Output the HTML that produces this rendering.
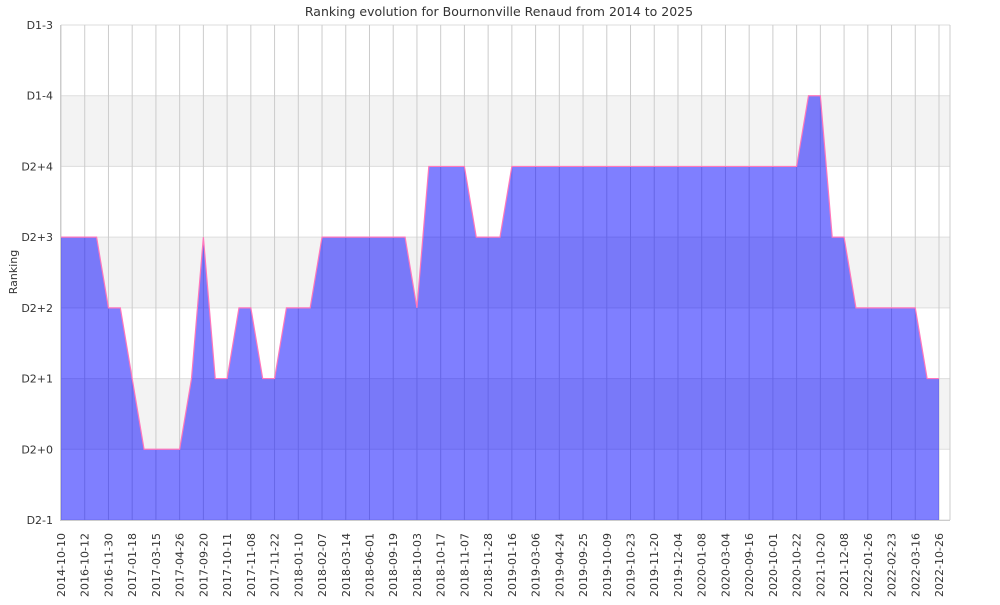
<!DOCTYPE html>
<html><head><meta charset="utf-8"><style>
body{margin:0;background:#fff;}
svg text{font-family:"DejaVu Sans","Liberation Sans",sans-serif;fill:#333;}
</style></head><body>
<svg id="chart" width="1000" height="600" xmlns="http://www.w3.org/2000/svg">
<text x="499" y="16" text-anchor="middle" font-size="12.5">Ranking evolution for Bournonville Renaud from 2014 to 2025</text>
<text x="0" y="0" transform="translate(17,272) rotate(-90)" text-anchor="middle" font-size="11">Ranking</text>
<g id="bands"></g><g id="grid"></g><g id="area"></g><g id="axes"></g>
</svg>
<script>
const dateLabels=["2014-10-10","2016-10-12","2016-11-30","2017-01-18","2017-03-15","2017-04-26","2017-09-20","2017-10-11","2017-11-08","2017-11-22","2018-01-10","2018-02-07","2018-03-14","2018-06-01","2018-09-19","2018-10-03","2018-10-17","2018-11-07","2018-11-28","2019-01-16","2019-03-06","2019-04-24","2019-09-25","2019-10-09","2019-10-23","2019-11-20","2019-12-04","2020-01-08","2020-03-04","2020-09-16","2020-10-01","2020-10-22","2021-10-20","2021-12-08","2022-01-26","2022-02-23","2022-03-16","2022-10-26"];
const rankLabels=["D2-1","D2+0","D2+1","D2+2","D2+3","D2+4","D1-4","D1-3"];
const rankValues=[3,3,3,3,2,2,1,0,0,0,0,1,3,1,1,2,2,1,1,2,2,2,3,3,3,3,3,3,3,3,2,4,4,4,4,3,3,3,4,4,4,4,4,4,4,4,4,4,4,4,4,4,4,4,4,4,4,4,4,4,4,4,4,5,5,3,3,2,2,2,2,2,2,1,1];
const NS="http://www.w3.org/2000/svg";
const L=61,R=950,T=25,B=520,xEnd=939;
const n=rankValues.length;
const xs=i=>L+i*(xEnd-L)/(n-1);
const ys=v=>B-(v+1)*(B-T)/(rankLabels.length-1);
function mk(tag,attrs,parent){const e=document.createElementNS(NS,tag);for(const k in attrs)e.setAttribute(k,attrs[k]);document.getElementById(parent).appendChild(e);return e;}
for(let v=0;v<6;v+=2){
 const r=mk('rect',{x:L,y:ys(v+1),width:R-L,height:ys(v)-ys(v+1),fill:'#f3f3f3'},'bands');
 
 
}
rankLabels.forEach((lab,k)=>{
 const v=k-1,y=ys(v);
 const g=mk('line',{x1:L,x2:R,y1:y,y2:y,stroke:'#ddd','stroke-width':1},'grid');
 
 
 const t=mk('text',{x:53,y:y+4,'text-anchor':'end','font-size':11},'axes');
 t.textContent=lab;
 
 
});
dateLabels.forEach((d,k)=>{
 const x=xs(k*2);
 const g=mk('line',{x1:x,x2:x,y1:T,y2:B,stroke:'#ccc','stroke-width':1},'grid');
 
 
 const t=mk('text',{x:0,y:0,transform:`translate(${x+4},533) rotate(-90)`,'text-anchor':'end','font-size':11},'axes');
 t.textContent=d;
 
 
});
mk('line',{x1:R,x2:R,y1:T,y2:B,stroke:'#ccc'},'grid');
let pts=rankValues.map((v,i)=>xs(i)+','+ys(v));
const poly=mk('polygon',{points:pts.join(' ')+` ${xs(n-1)},${B} ${xs(0)},${B}`,fill:'rgba(0,0,255,0.5)'},'area');


const line=mk('polyline',{points:pts.join(' '),fill:'none',stroke:'#ff77bb','stroke-width':1.2},'area');


const ax=mk('line',{x1:60.5,x2:60.5,y1:T,y2:B+0.5,stroke:'#ccc'},'axes');


const bx=mk('line',{x1:60,x2:R,y1:B+0.5,y2:B+0.5,stroke:'#ccc'},'axes');


</script>
</body></html>
